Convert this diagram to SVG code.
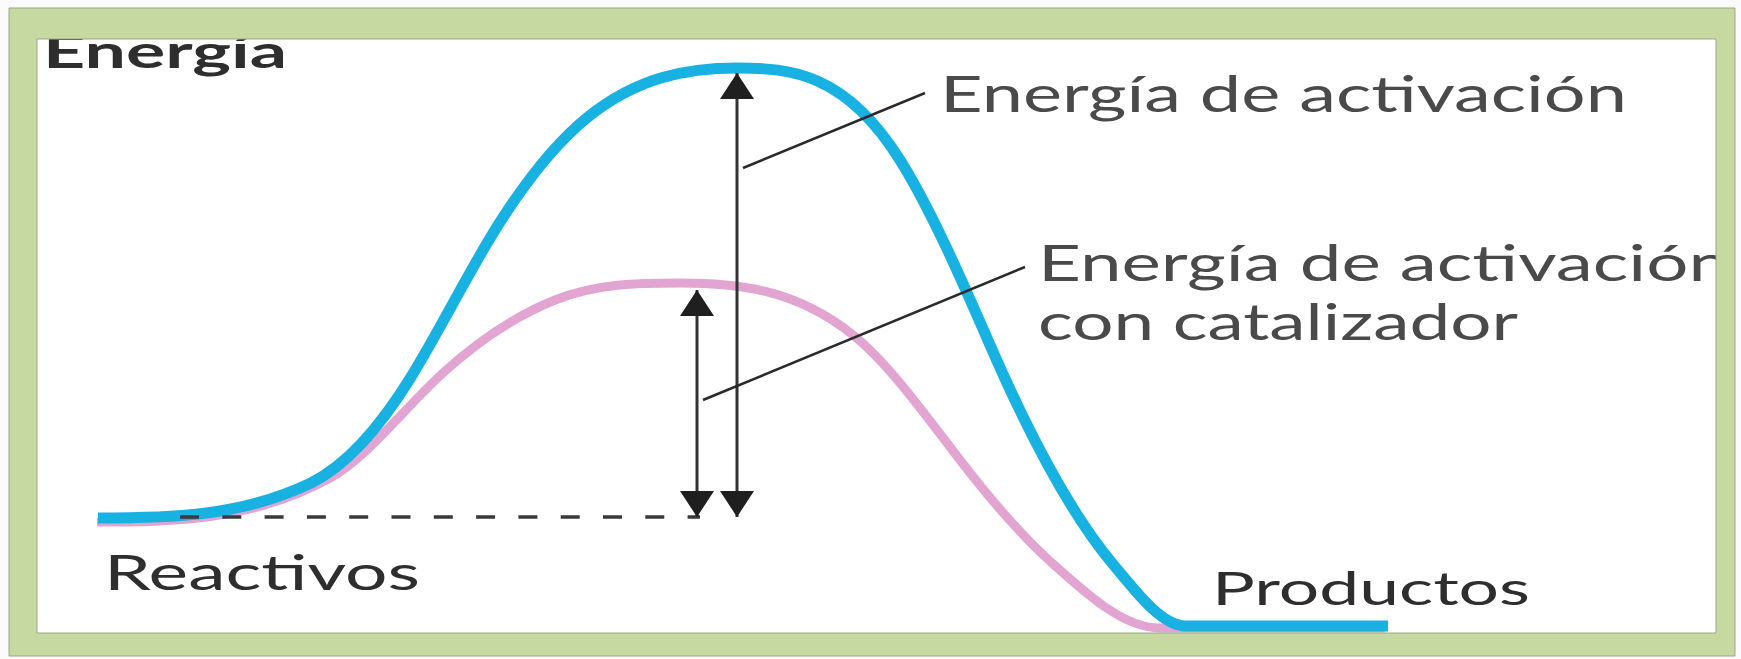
<svg xmlns="http://www.w3.org/2000/svg" width="1741" height="659" viewBox="0 0 1741 659">
  <style>
    .lbl { font-family: Lato, "Open Sans", "Liberation Sans", sans-serif; fill: #4a4a4a; }
    .axis { font-family: Lato, "Open Sans", "Liberation Sans", sans-serif; fill: #2e2e2e; }
    .arrow { stroke: #333; stroke-width: 3; fill: none; marker-start: url(#head); marker-end: url(#head); }
    .leader { stroke: #2a2a2a; stroke-width: 2.5; fill: none; }
  </style>
  <defs>
    <marker id="head" markerUnits="userSpaceOnUse" markerWidth="26" markerHeight="34" refX="26" refY="17" orient="auto-start-reverse" viewBox="0 0 26 34">
      <path d="M0,0 L26,17 L0,34 Z" fill="#1f1f1f"/>
    </marker>
  </defs>

  <rect x="0" y="0" width="1741" height="659" fill="#fbfbfb"/>
  <rect x="37" y="39" width="1680" height="594" fill="#ffffff"/>

  <g id="curves">
    <path id="catalyzed" d="M97,522 C174.7,522 252.3,520.7 330,478 C368,457.1 406,406.2 444,372 C481,338.7 518,314.8 555,300 C596.7,283.3 638.3,283 680,283 C737.7,283 795.3,288.9 853,335 C888.7,363.6 924.3,413.6 960,460 C990.7,499.9 1021.3,535.4 1052,563 C1088,595.4 1124,628 1160,628 L1385,628" fill="none" stroke="#e2a5d1" stroke-width="9"/>
    <path id="uncatalyzed" d="M98,518 C169,518 240,517 311,483 C344.3,466.3 377.7,431 411,377 C440.7,328.9 470.3,268.3 500,222 C529.3,176.3 558.7,140.4 588,117 C637.7,77.2 687.3,68 737,68 C791.3,68 845.7,73.1 900,160 C930,208 960,276 990,345 C1030.7,438.6 1071.3,514.2 1112,563 C1136,591.8 1160,624 1184,626 L1388,626" fill="none" stroke="#17b2e2" stroke-width="11"/>
  </g>

  <g id="connectors">
    <line id="baseline-dash" x1="180" y1="517" x2="700" y2="517" stroke="#3a3a3a" stroke-width="3.5" stroke-dasharray="19 23.3"/>
    <line id="arrow-ea" class="arrow" x1="737" y1="73" x2="737" y2="517"/>
    <line id="arrow-eac" class="arrow" x1="697" y1="290" x2="697" y2="517"/>
    <line id="leader-ea" class="leader" x1="743" y1="168" x2="925" y2="93"/>
    <line id="leader-eac" class="leader" x1="703" y1="400" x2="1025" y2="267"/>
  </g>

  <g id="label-energia">
    <text class="axis" x="43" y="68" font-size="45" font-weight="bold" textLength="244" lengthAdjust="spacingAndGlyphs">Energía</text>
  </g>
  <g id="label-ea">
    <text class="lbl" x="940" y="112" font-size="50" textLength="687" lengthAdjust="spacingAndGlyphs">Energía de activación</text>
  </g>
  <g id="label-eac">
    <text class="lbl" x="1038" y="281" font-size="50" textLength="692" lengthAdjust="spacingAndGlyphs">Energía de activación</text>
    <text class="lbl" x="1038" y="340" font-size="50" textLength="480" lengthAdjust="spacingAndGlyphs">con catalizador</text>
  </g>
  <g id="label-reactivos">
    <text class="axis" x="104" y="590" font-size="48" textLength="316" lengthAdjust="spacingAndGlyphs">Reactivos</text>
  </g>
  <g id="label-productos">
    <text class="axis" x="1212" y="605" font-size="47" textLength="318" lengthAdjust="spacingAndGlyphs">Productos</text>
  </g>

  <g id="frame">
    <path d="M9,8 H1735 V656 H9 Z M37,39 V633 H1716 V39 Z" fill="#c6d9a0" fill-rule="evenodd" stroke="#9aa58a" stroke-width="1"/>
  </g>
</svg>
